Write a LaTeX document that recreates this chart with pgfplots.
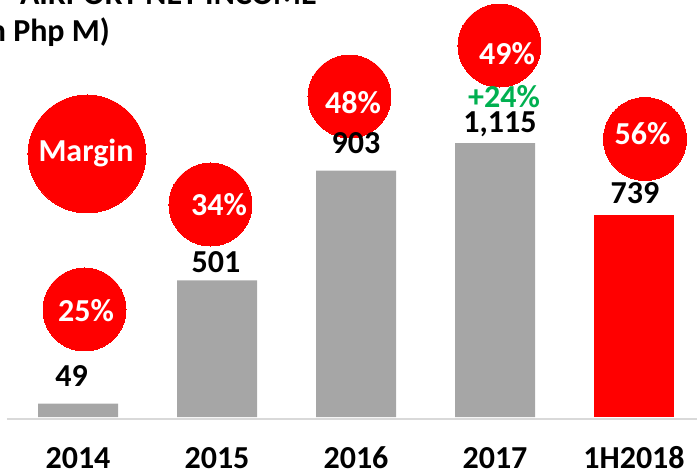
\documentclass[border=0pt]{standalone}
\usepackage{pgfplots}
\pgfplotsset{compat=1.18}
\usepackage{fontspec}
\setmainfont{Carlito}
\definecolor{barg}{HTML}{A6A6A6}
\definecolor{myred}{HTML}{FF0000}
\definecolor{mygreen}{HTML}{00B050}
\definecolor{lineg}{HTML}{D9D9D9}
\newcommand{\lab}{\fontsize{32bp}{38bp}\selectfont\bfseries}
\begin{document}
\begin{tikzpicture}
\begin{axis}[
  scale only axis, width=697bp, height=474bp,
  xmin=-0.5612, xmax=4.4532, ymin=-208.9, ymax=1528.3,
  clip=false,
  axis line style={draw=none},
  ytick=\empty,
  xtick={0,1,2,3,4},
  xticklabels={2014,2015,2016,2017,1H2018},
  major tick length=0pt,
  xticklabel style={anchor=base, yshift=6bp, inner sep=0pt, font=\lab},
  /pgf/number format/assume math mode=true,
]
\coordinate (BL) at (rel axis cs:0,0);
\coordinate (TR) at (rel axis cs:1,1);
\draw[lineg, line width=1.5bp] (axis cs:-0.511,-7.3) -- (axis cs:4.4532,-7.3);
% bars (heights as drawn)
\addplot[ybar, bar shift=0pt, bar width=80bp, fill=barg, draw=none] coordinates {(0,49) (1,501) (2,903) (3,1004)};
\addplot[ybar, bar shift=0pt, bar width=80bp, fill=myred, draw=none] coordinates {(4,739)};
% margin bubbles
\addplot[myred, only marks, mark=*, mark size=41.5bp, mark options={fill=myred, draw=myred, line width=0pt}] coordinates {(0.0468,394.0) (0.953,778.8) (1.953,1174.6) (3.032,1361.5) (4.079,1018.9)};
\addplot[myred, only marks, mark=*, mark size=59bp, mark options={fill=myred, draw=myred, line width=0pt}] coordinates {(0.0647,963.9)};
% anchor points for labels
\coordinate (v1) at (axis cs:-0.0468,110.0);
\coordinate (v2) at (axis cs:0.9928,531.4);
\coordinate (v3) at (axis cs:2.0,963.9);
\coordinate (v4) at (axis cs:3.036,1040.9);
\coordinate (v5) at (axis cs:4.007,784.3);
\coordinate (g4) at (axis cs:3.065,1132.5);
\coordinate (mg) at (axis cs:0.0576,934.6);
\coordinate (p1) at (axis cs:0.0576,351.8);
\coordinate (p2) at (axis cs:1.0144,736.7);
\coordinate (p3) at (axis cs:1.978,1110.5);
\coordinate (p4) at (axis cs:3.086,1293.7);
\coordinate (p5) at (axis cs:4.061,996.9);
\coordinate (t1) at (axis cs:1.719,1510);
\coordinate (t2) at (axis cs:0.230,1374.4);
\end{axis}
% value labels
\node[anchor=base, inner sep=0pt, font=\lab] at (v1) {49};
\node[anchor=base, inner sep=0pt, font=\lab] at (v2) {501};
\node[anchor=base, inner sep=0pt, font=\lab] at (v3) {903};
\node[anchor=base, inner sep=0pt, font=\lab] at (v4) {1,115};
\node[anchor=base, inner sep=0pt, font=\lab] at (v5) {739};
\node[anchor=base, inner sep=0pt, font=\lab, text=mygreen] at (g4) {+24\%};
% bubble texts
\node[anchor=base, inner sep=0pt, font=\lab, text=white] at (mg) {Margin};
\node[anchor=base, inner sep=0pt, font=\lab, text=white] at (p1) {25\%};
\node[anchor=base, inner sep=0pt, font=\lab, text=white] at (p2) {34\%};
\node[anchor=base, inner sep=0pt, font=\lab, text=white] at (p3) {48\%};
\node[anchor=base, inner sep=0pt, font=\lab, text=white] at (p4) {49\%};
\node[anchor=base, inner sep=0pt, font=\lab, text=white] at (p5) {56\%};
% title (cut by the page edge, as in the reference)
\node[anchor=base east, inner sep=0pt, font=\lab] at (t1) {AIRPORT NET INCOME};
\node[anchor=base east, inner sep=0pt, font=\lab] at (t2) {(in Php M)};
\pgfresetboundingbox
\path[use as bounding box] (BL) rectangle (TR);
\end{tikzpicture}
\end{document}
